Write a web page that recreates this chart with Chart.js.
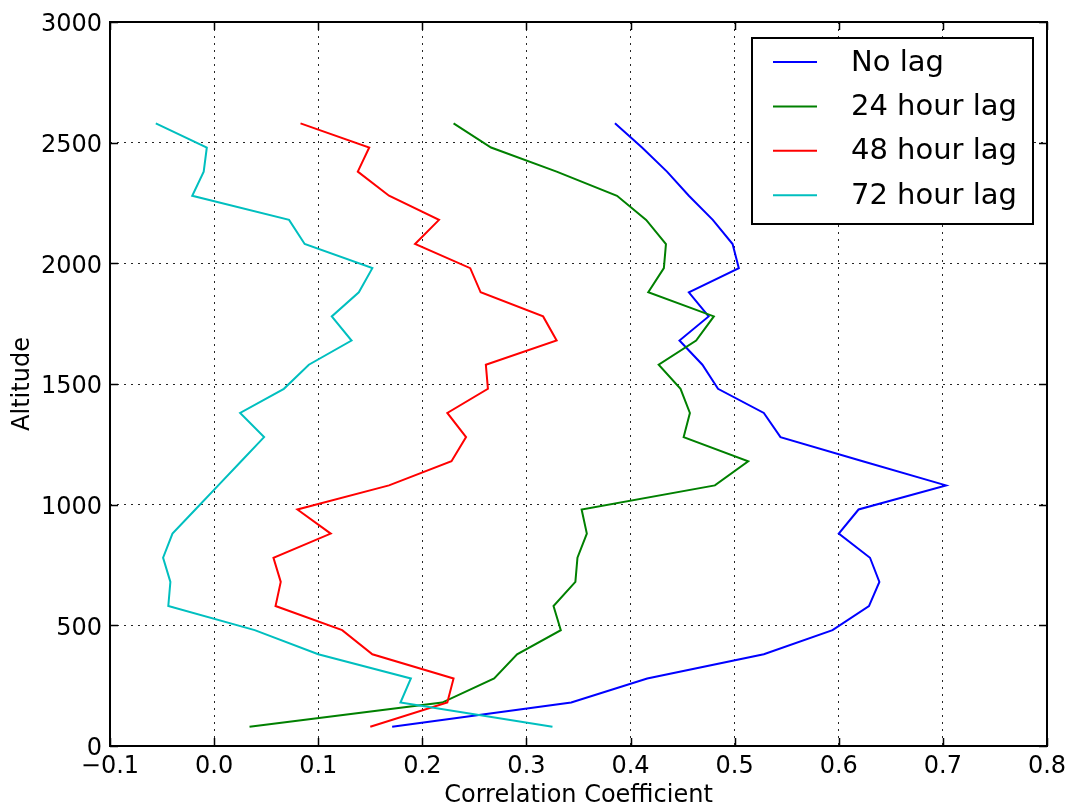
<!DOCTYPE html>
<html>
<head>
<meta charset="utf-8">
<script src="https://cdn.jsdelivr.net/npm/chart.js@4/dist/chart.umd.min.js"></script>
<style>
  html, body { margin: 0; padding: 0; background: #ffffff; }
  canvas { display: block; }
</style>
</head>
<body>
<canvas id="grafico" width="1068" height="805"></canvas>
<script>
// altitude levels (y axis) and correlation per lag (x axis)
const altitudes = [80, 180, 280, 380, 480, 580, 680, 780, 880, 980, 1080, 1180, 1280,
                   1380, 1480, 1580, 1680, 1780, 1880, 1980, 2080, 2180, 2280, 2380, 2480, 2580];

const noLag = [0.171, 0.343, 0.416, 0.528, 0.594, 0.629, 0.639, 0.630, 0.600, 0.619, 0.703, 0.623, 0.544,
               0.528, 0.484, 0.469, 0.447, 0.475, 0.456, 0.504, 0.498, 0.479, 0.456, 0.435, 0.411, 0.385];
const lag24 = [0.034, 0.219, 0.269, 0.291, 0.333, 0.326, 0.347, 0.349, 0.358, 0.353, 0.481, 0.513, 0.451,
               0.457, 0.448, 0.427, 0.463, 0.480, 0.417, 0.432, 0.434, 0.415, 0.387, 0.329, 0.266, 0.230];
const lag48 = [0.150, 0.224, 0.230, 0.152, 0.123, 0.059, 0.064, 0.057, 0.112, 0.080, 0.168, 0.228, 0.242,
               0.224, 0.263, 0.261, 0.329, 0.316, 0.256, 0.246, 0.193, 0.216, 0.168, 0.138, 0.149, 0.083];
const lag72 = [0.325, 0.179, 0.189, 0.100, 0.039, -0.044, -0.042, -0.049, -0.040, -0.018, 0.004, 0.026, 0.048,
               0.025, 0.067, 0.091, 0.132, 0.113, 0.139, 0.152, 0.087, 0.072, -0.021, -0.010, -0.007, -0.056];

const seriesLabels = ['No lag', '24 hour lag', '48 hour lag', '72 hour lag'];
const seriesColors = ['#0000ff', '#008000', '#ff0000', '#00bfbf'];
const seriesValues = [noLag, lag24, lag48, lag72];

const FONT = '"DejaVu Sans", sans-serif';

// Marco, ticks hacia dentro y leyenda con caja
const marcoYLeyenda = {
    id: 'marcoYLeyenda',
    afterDraw(chart) {
        const { ctx, chartArea: { top, bottom, left, right }, scales: { x, y } } = chart;
        ctx.save();
        ctx.strokeStyle = '#000';
        ctx.lineWidth = 1.5;
        const tl = 8;
        ctx.beginPath();
        x.ticks.forEach(t => {
            const px = Math.round(x.getPixelForValue(t.value)) + 0.5;
            ctx.moveTo(px, bottom); ctx.lineTo(px, bottom - tl);
            ctx.moveTo(px, top); ctx.lineTo(px, top + tl);
        });
        y.ticks.forEach(t => {
            const py = Math.round(y.getPixelForValue(t.value)) + 0.5;
            ctx.moveTo(left, py); ctx.lineTo(left + tl, py);
            ctx.moveTo(right, py); ctx.lineTo(right - tl, py);
        });
        ctx.stroke();

        ctx.lineWidth = 2;
        ctx.strokeRect(left, top, right - left, bottom - top);

        // leyenda
        const bx = right - 295, by = top + 16, bw = 281, bh = 186;
        ctx.fillStyle = '#fff';
        ctx.fillRect(bx, by, bw, bh);
        ctx.strokeRect(bx, by, bw, bh);
        ctx.font = `29px ${FONT}`;
        ctx.textBaseline = 'middle';
        ctx.textAlign = 'left';
        chart.data.datasets.forEach((ds, i) => {
            const cy = by + 24 + i * 44.4;
            ctx.strokeStyle = ds.borderColor;
            ctx.lineWidth = 2;
            ctx.beginPath();
            ctx.moveTo(bx + 21, cy); ctx.lineTo(bx + 65, cy);
            ctx.stroke();
            ctx.fillStyle = '#000';
            ctx.fillText(ds.label, bx + 99, cy + 1);
        });
        ctx.restore();
    }
};

const datasets = seriesLabels.map((lbl, i) => ({
    label: lbl,
    data: altitudes.map((a, k) => ({ x: seriesValues[i][k], y: a })),
    borderColor: seriesColors[i],
    backgroundColor: seriesColors[i],
    borderWidth: 2,
    showLine: true,
    pointRadius: 0,
    tension: 0,
    order: seriesLabels.length - i
}));

new Chart(document.getElementById('grafico').getContext('2d'), {
    type: 'scatter',
    data: { datasets },
    options: {
        responsive: false,
        animation: false,
        layout: { padding: { top: 22, right: 21, left: 0, bottom: 0 } },
        plugins: { legend: { display: false }, tooltip: { enabled: false } },
        scales: {
            x: {
                type: 'linear', min: -0.1, max: 0.8,
                afterFit: s => { s.height = 59; s.paddingLeft = 0; s.paddingRight = 0; },
                ticks: {
                    stepSize: 0.1, padding: 6, color: '#000',
                    font: { family: FONT, size: 24 },
                    callback: v => (Math.abs(v) < 1e-9 ? 0 : v).toFixed(1).replace('-', '\u2212')
                },
                grid: { color: 'rgba(0,0,0,0.85)', lineWidth: 1, drawTicks: false },
                border: { display: false, dash: [2, 5] },
                title: {
                    display: true, text: 'Correlation Coefficient', color: '#000',
                    font: { family: FONT, size: 24, lineHeight: 0.8 }, padding: { top: 0, bottom: 0 }
                }
            },
            y: {
                type: 'linear', min: 0, max: 3000,
                afterFit: s => { s.width = 110; s.paddingTop = 0; s.paddingBottom = 0; },
                ticks: {
                    stepSize: 500, padding: 8, labelOffset: 3, color: '#000',
                    font: { family: FONT, size: 24 },
                    callback: v => String(v)
                },
                grid: { color: 'rgba(0,0,0,0.85)', lineWidth: 1, drawTicks: false },
                border: { display: false, dash: [2, 5] },
                title: {
                    display: true, text: 'Altitude', color: '#000',
                    font: { family: FONT, size: 24, lineHeight: 1.2 }, padding: { top: 8, bottom: 0 }
                }
            }
        }
    },
    plugins: [marcoYLeyenda]
});
</script>
</body>
</html>
